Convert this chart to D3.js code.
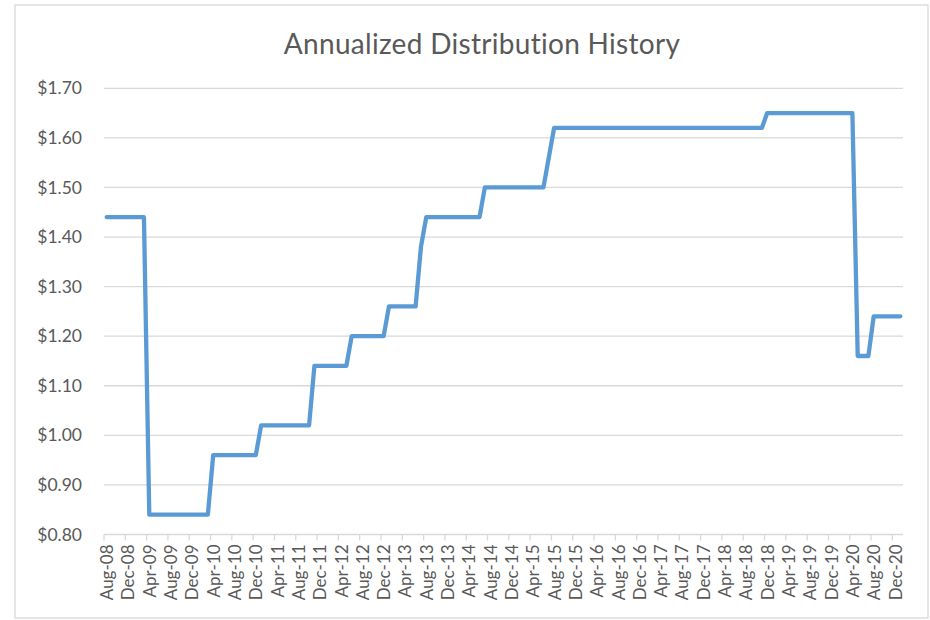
<!DOCTYPE html>
<html>
<head>
<meta charset="utf-8">
<script src="https://cdn.jsdelivr.net/npm/d3@7"></script>
<style>
  html, body { margin: 0; padding: 0; background: #fff; }
  svg { display: block; font-family: Lato, "Open Sans", sans-serif; }
</style>
</head>
<body>
<svg id="chart" width="930" height="620"></svg>
<script>
// ---- data ----
const title = "Annualized Distribution History";
const startMonth = new Date(2008, 7, 1); // Aug-08
const monthCount = 150;                    // Aug-08 .. Jan-21
const distribution = [
  1.44, 1.44, 1.44, 1.44, 1.44, 1.44, 1.44, 1.44,
  0.84, 0.84, 0.84, 0.84, 0.84, 0.84, 0.84, 0.84, 0.84, 0.84, 0.84, 0.84,
  0.96, 0.96, 0.96, 0.96, 0.96, 0.96, 0.96, 0.96, 0.96,
  1.02, 1.02, 1.02, 1.02, 1.02, 1.02, 1.02, 1.02, 1.02, 1.02,
  1.14, 1.14, 1.14, 1.14, 1.14, 1.14, 1.14,
  1.20, 1.20, 1.20, 1.20, 1.20, 1.20, 1.20,
  1.26, 1.26, 1.26, 1.26, 1.26, 1.26,
  1.38,
  1.44, 1.44, 1.44, 1.44, 1.44, 1.44, 1.44, 1.44, 1.44, 1.44, 1.44,
  1.50, 1.50, 1.50, 1.50, 1.50, 1.50, 1.50, 1.50, 1.50, 1.50, 1.50, 1.50,
  1.56,
  1.62, 1.62, 1.62, 1.62, 1.62, 1.62, 1.62, 1.62, 1.62, 1.62,
  1.62, 1.62, 1.62, 1.62, 1.62, 1.62, 1.62, 1.62, 1.62, 1.62,
  1.62, 1.62, 1.62, 1.62, 1.62, 1.62, 1.62, 1.62, 1.62, 1.62,
  1.62, 1.62, 1.62, 1.62, 1.62, 1.62, 1.62, 1.62, 1.62, 1.62,
  1.65, 1.65, 1.65, 1.65, 1.65, 1.65, 1.65, 1.65, 1.65, 1.65,
  1.65, 1.65, 1.65, 1.65, 1.65, 1.65, 1.65,
  1.16, 1.16, 1.16,
  1.24, 1.24, 1.24, 1.24, 1.24, 1.24
];
const yTicks = [0.80, 0.90, 1.00, 1.10, 1.20, 1.30, 1.40, 1.50, 1.60, 1.70];
const labelEvery = 4;

// ---- categories ----
const fmt = d3.timeFormat("%b-%y");
const categories = d3.range(monthCount).map(i => fmt(d3.timeMonth.offset(startMonth, i)));
const data = categories.map((c, i) => ({ cat: c, value: distribution[i] }));
const shownCats = categories.filter((c, i) => i % labelEvery === 0 && i < monthCount - 1);

// ---- layout ----
const svg = d3.select("#chart");
const plot = { left: 104, right: 903, top: 88.3, bottom: 534.5 };

const x = d3.scaleBand().domain(categories).range([plot.left, plot.right]).padding(0);
const y = d3.scaleLinear().domain([0.80, 1.70]).range([plot.bottom, plot.top]);

// chart border
svg.append("rect")
  .attr("x", 15).attr("y", 5).attr("width", 913).attr("height", 613)
  .attr("fill", "#fff").attr("stroke", "#d9d9d9").attr("stroke-width", 1.3);

// title
svg.append("text")
  .attr("x", 482).attr("y", 54)
  .attr("text-anchor", "middle")
  .attr("font-size", 28)
  .attr("letter-spacing", 0.3)
  .attr("fill", "#595959")
  .text(title);

// gridlines
svg.append("g")
  .selectAll("line")
  .data(yTicks.filter(t => t > 0.80))
  .join("line")
  .attr("x1", plot.left).attr("x2", plot.right)
  .attr("y1", d => y(d)).attr("y2", d => y(d))
  .attr("stroke", "#d9d9d9").attr("stroke-width", 1.3);

// y axis labels
const yAxis = d3.axisLeft(y).tickValues(yTicks).tickSize(0).tickPadding(0)
  .tickFormat(d => "$" + d3.format(".2f")(d));
const gy = svg.append("g").attr("transform", `translate(82,0)`).call(yAxis);
gy.select(".domain").remove();
gy.selectAll("text").attr("font-size", 17.5).attr("fill", "#595959")
  .attr("font-family", "Lato, 'Open Sans', sans-serif");

// x axis line
svg.append("line")
  .attr("x1", plot.left).attr("x2", plot.right)
  .attr("y1", plot.bottom).attr("y2", plot.bottom)
  .attr("stroke", "#d9d9d9").attr("stroke-width", 1.3);

// x tick marks at category boundaries
svg.append("g")
  .selectAll("line")
  .data(shownCats)
  .join("line")
  .attr("x1", d => x(d)).attr("x2", d => x(d))
  .attr("y1", plot.bottom).attr("y2", plot.bottom + 6)
  .attr("stroke", "#d9d9d9").attr("stroke-width", 1.3);

// x labels
const xAxis = d3.axisBottom(x).tickValues(shownCats).tickSize(0).tickPadding(0);
const gx = svg.append("g").attr("transform", `translate(0,${plot.bottom})`).call(xAxis);
gx.select(".domain").remove();
gx.selectAll(".tick text")
  .attr("font-size", 17)
  .attr("fill", "#595959")
  .attr("font-family", "Lato, 'Open Sans', sans-serif")
  .attr("text-anchor", "end")
  .attr("dy", null)
  .attr("dominant-baseline", "central")
  .attr("transform", "translate(0,10) rotate(-90)")
  .attr("x", 0).attr("y", 0);

// line
const line = d3.line()
  .x(d => x(d.cat) + x.bandwidth() / 2)
  .y(d => y(d.value));

svg.append("path")
  .datum(data)
  .attr("d", line)
  .attr("fill", "none")
  .attr("stroke", "#5b9bd5")
  .attr("stroke-width", 4.3)
  .attr("stroke-linejoin", "round")
  .attr("stroke-linecap", "round");
</script>
</body>
</html>
